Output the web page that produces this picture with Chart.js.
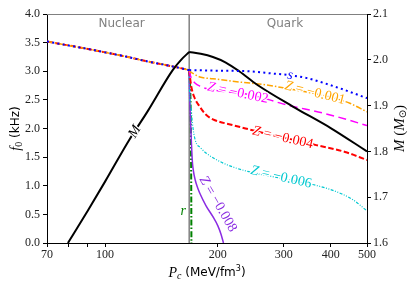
<!DOCTYPE html>
<html>
<head>
<meta charset="utf-8">
<script src="https://cdn.jsdelivr.net/npm/chart.js@4"></script>
<style>
  html, body { margin: 0; padding: 0; background: #fff; }
  #wrap { width: 415px; height: 288px; }
</style>
</head>
<body>
<div id="wrap"><canvas id="chart"></canvas></div>
<script>
// axis ticks
const xTicks = [70, 80, 90, 100, 200, 300, 400, 500];
const xTickLabels = [70, 100, 200, 300, 400, 500];
const f0Ticks = [0, 0.5, 1, 1.5, 2, 2.5, 3, 3.5, 4];
const massTicks = [1.6, 1.7, 1.8, 1.9, 2.0, 2.1];

// phase transition pressure
const transitionP = 167.7;

// nuclear branch f0 (shared by every curve)
const nuclearP  = [70, 80, 90, 100, 115, 130, 145, 160, 167.7];
const nuclearF0 = [3.52, 3.45, 3.39, 3.33, 3.25, 3.17, 3.11, 3.05, 3.02];

// mass (right axis)
const massNucP   = [79.6, 90, 100, 116, 130, 151.7, 160, 167.7];
const massNuc    = [1.600, 1.671, 1.734, 1.825, 1.888, 1.978, 2.001, 2.017];
const massQuarkP = [167.7, 180, 194, 210, 228, 254, 317, 400, 500];
const massQuark  = [2.017, 2.013, 2.006, 1.994, 1.975, 1.946, 1.898, 1.851, 1.800];

// quark branch f0, one per model
const sP  = [167.7, 200, 240, 280, 312, 346, 381, 424, 500];
const sF0 = [3.02, 3.01, 3.00, 2.96, 2.93, 2.88, 2.80, 2.70, 2.53];

const z1P  = [167.7, 169, 172, 179, 194, 230, 270, 310, 363, 410, 450, 500];
const z1F0 = [3.02, 2.99, 2.96, 2.90, 2.87, 2.81, 2.76, 2.69, 2.61, 2.53, 2.44, 2.29];

const z2P  = [167.7, 169, 171, 174, 179, 186, 200, 240, 275, 298, 381, 440, 500];
const z2F0 = [3.02, 2.92, 2.85, 2.79, 2.74, 2.70, 2.66, 2.60, 2.50, 2.43, 2.27, 2.16, 2.05];

const z4P  = [167.7, 168.5, 170, 173, 179, 186, 194, 219, 244, 280, 320, 366, 437, 500];
const z4F0 = [3.02, 2.90, 2.72, 2.55, 2.38, 2.24, 2.16, 2.06, 1.98, 1.88, 1.80, 1.71, 1.59, 1.45];

const z6P  = [167.7, 168, 169.5, 171, 174, 180, 187, 206, 240, 280, 320, 369, 424, 460, 500];
const z6F0 = [3.02, 2.70, 2.40, 2.10, 1.80, 1.66, 1.56, 1.40, 1.25, 1.16, 1.08, 1.00, 0.87, 0.75, 0.56];

const z8P  = [167.7, 168, 168.7, 169.4, 170, 171, 172, 174, 176.5, 179, 186, 194, 200, 204, 207];
const z8F0 = [3.02, 2.70, 2.30, 2.00, 1.75, 1.42, 1.27, 1.10, 0.97, 0.87, 0.65, 0.46, 0.30, 0.15, 0.0];

const rP  = [167.8, 169.3, 169.8, 170.0];
const rF0 = [3.02, 2.20, 1.00, 0.0];

const pts = (xs, ys) => xs.map((x, i) => ({ x: x, y: ys[i] }));

function line(xs, ys, color, width, dash, axis) {
  return {
    data: pts(xs, ys),
    borderColor: color,
    borderWidth: width,
    borderDash: dash || [],
    pointRadius: 0,
    fill: false,
    cubicInterpolationMode: 'monotone',
    yAxisID: axis || 'y'
  };
}

const BLUE = '#0000ff', ORANGE = '#ffa500', MAGENTA = '#ff00ff', RED = '#ff0000',
      CYAN = '#00c8d0', PURPLE = '#8a2be2', GREEN = '#008000', GRAY = '#808080';

const dotted = [2, 3.3], dashDot = [6, 2, 1.5, 2], dashed = [8, 4.5], redDash = [5.5, 2.5],
      dashDotDot = [3, 1.5, 1, 1.5, 1, 1.5];

const serif = 'Liberation Serif';
const sans = 'DejaVu Sans';

// labels written along the curves (data coords)
const curveLabels = [
  { runs: [['s', 'italic 14px ' + serif]], x: 312, y: 2.93, axis: 'y', angle: 8, color: BLUE },
  { runs: [['Z', 'italic 14px ' + serif], [' = \u22120.001', '14px ' + serif]], x: 363, y: 2.62, axis: 'y', angle: 14, color: ORANGE },
  { runs: [['Z', 'italic 14px ' + serif], [' = \u22120.002', '14px ' + serif]], x: 226, y: 2.62, axis: 'y', angle: 12, color: MAGENTA },
  { runs: [['Z', 'italic 14px ' + serif], [' = \u22120.004', '14px ' + serif]], x: 298, y: 1.84, axis: 'y', angle: 13, color: RED },
  { runs: [['Z', 'italic 14px ' + serif], [' = \u22120.006', '14px ' + serif]], x: 295, y: 1.15, axis: 'y', angle: 13, color: CYAN },
  { runs: [['Z', 'italic 14px ' + serif], [' = \u22120.008', '14px ' + serif]], x: 200, y: 0.68, axis: 'y', angle: 60, color: PURPLE },
  { runs: [['M', 'italic 14px ' + serif]], x: 120, y: 1.843, axis: 'y2', angle: -59, color: '#000' },
  { runs: [['r', 'italic 14px ' + serif]], x: 161.7, y: 0.55, axis: 'y', angle: 0, color: GREEN }
];

function drawRuns(ctx, runs, x, y, angle, color, halo) {
  ctx.save();
  ctx.translate(x, y);
  ctx.rotate(angle * Math.PI / 180);
  ctx.textBaseline = 'middle';
  let w = 0;
  const widths = runs.map(r => { ctx.font = r[1]; const m = ctx.measureText(r[0]).width; w += m; return m; });
  let cx = -w / 2;
  runs.forEach((r, i) => {
    ctx.font = r[1];
    const dy = r[2] || 0;
    if (halo) {
      ctx.strokeStyle = '#fff';
      ctx.lineWidth = 2.5;
      ctx.lineJoin = 'round';
      ctx.strokeText(r[0], cx, dy);
    }
    ctx.fillStyle = color;
    ctx.fillText(r[0], cx, dy);
    cx += widths[i];
  });
  ctx.restore();
}

const annotations = {
  id: 'annotations',
  afterDatasetsDraw(chart) {
    const ctx = chart.ctx;
    const a = chart.chartArea;
    const sx = chart.scales.x;
    // top spine
    ctx.save();
    ctx.strokeStyle = GRAY;
    ctx.lineWidth = 1;
    ctx.beginPath();
    ctx.moveTo(a.left, a.top + 0.5);
    ctx.lineTo(a.right, a.top + 0.5);
    ctx.stroke();
    ctx.restore();

    curveLabels.forEach(l => {
      drawRuns(ctx, l.runs, sx.getPixelForValue(l.x), chart.scales[l.axis].getPixelForValue(l.y), l.angle, l.color, true);
    });

    // region names
    const sy = chart.scales.y;
    drawRuns(ctx, [['Nuclear', '12px ' + sans]], sx.getPixelForValue(110.7), sy.getPixelForValue(3.825), 0, GRAY, false);
    drawRuns(ctx, [['Quark', '12px ' + sans]], sx.getPixelForValue(302), sy.getPixelForValue(3.825), 0, GRAY, false);

    // axis titles
    const midY = (a.top + a.bottom) / 2;
    drawRuns(ctx, [['f', 'italic 14px ' + serif], ['0', '10px ' + serif, 3], [' (kHz)', '12px ' + sans]], 16, midY, -90, '#000', false);
    drawRuns(ctx, [['P', 'italic 14px ' + serif], ['c', 'italic 10px ' + serif, 3], [' (MeV/fm', '12px ' + sans], ['3', '8px ' + sans, -4], [')', '12px ' + sans]],
      (a.left + a.right) / 2, 273, 0, '#000', false);
    drawRuns(ctx, [['M', 'italic 15px ' + serif], [' (', '15px ' + serif], ['M', 'italic 15px ' + serif], ['\u2299', '10px ' + sans, 3], [')', '15px ' + serif]],
      400, midY, -90, '#000', false);
  }
};

const tickFont = { family: serif, size: 12 };

new Chart(document.getElementById('chart').getContext('2d'), {
  type: 'line',
  data: {
    datasets: [
      line(sP, sF0, BLUE, 2, dotted),
      line(nuclearP, nuclearF0, BLUE, 2, dotted),
      line(massNucP, massNuc, '#000', 2, [], 'y2'),
      line(massQuarkP, massQuark, '#000', 2, [], 'y2'),
      line(z1P, z1F0, ORANGE, 1.5, dashDot),
      line(nuclearP, nuclearF0, ORANGE, 1.5, dashDot),
      line(z2P, z2F0, MAGENTA, 1.5, dashed),
      line(z4P, z4F0, RED, 2, redDash),
      line(nuclearP, nuclearF0, RED, 2, redDash),
      line(z6P, z6F0, CYAN, 1.2, dashDotDot),
      line(z8P, z8F0, PURPLE, 1.5, []),
      line(rP, rF0, GREEN, 2, dashDot),
      line([transitionP, transitionP], [0, 4], GRAY, 1.5, [])
    ]
  },
  options: {
    responsive: true,
    maintainAspectRatio: false,
    animation: false,
    devicePixelRatio: 1,
    layout: { padding: { top: 14, left: 0, right: 0, bottom: 0 } },
    plugins: { legend: { display: false }, tooltip: { enabled: false } },
    scales: {
      x: {
        type: 'logarithmic',
        min: 70,
        max: 500,
        afterFit: s => { s.height = 45; },
        afterBuildTicks: s => { s.ticks = xTicks.map(v => ({ value: v })); },
        ticks: {
          callback: v => xTickLabels.includes(v) ? String(v) : '',
          autoSkip: false, maxRotation: 0, color: '#222', font: tickFont, padding: 1
        },
        grid: { drawOnChartArea: false, tickLength: 4, color: '#000' },
        border: { color: '#000', width: 1 }
      },
      y: {
        min: 0,
        max: 4,
        afterFit: s => { s.width = 47; },
        afterBuildTicks: s => { s.ticks = f0Ticks.map(v => ({ value: v })); },
        ticks: { callback: v => v.toFixed(1), color: '#222', font: tickFont, padding: 3 },
        grid: { drawOnChartArea: false, tickLength: 4, color: '#000' },
        border: { color: '#000', width: 1 }
      },
      y2: {
        position: 'right',
        min: 1.6,
        max: 2.1,
        afterFit: s => { s.width = 48; },
        afterBuildTicks: s => { s.ticks = massTicks.map(v => ({ value: v })); },
        ticks: { callback: v => v.toFixed(1), color: '#222', font: tickFont, padding: 2 },
        grid: { drawOnChartArea: false, tickLength: 4, color: '#000' },
        border: { color: '#000', width: 1 }
      }
    }
  },
  plugins: [annotations]
});
</script>
</body>
</html>
